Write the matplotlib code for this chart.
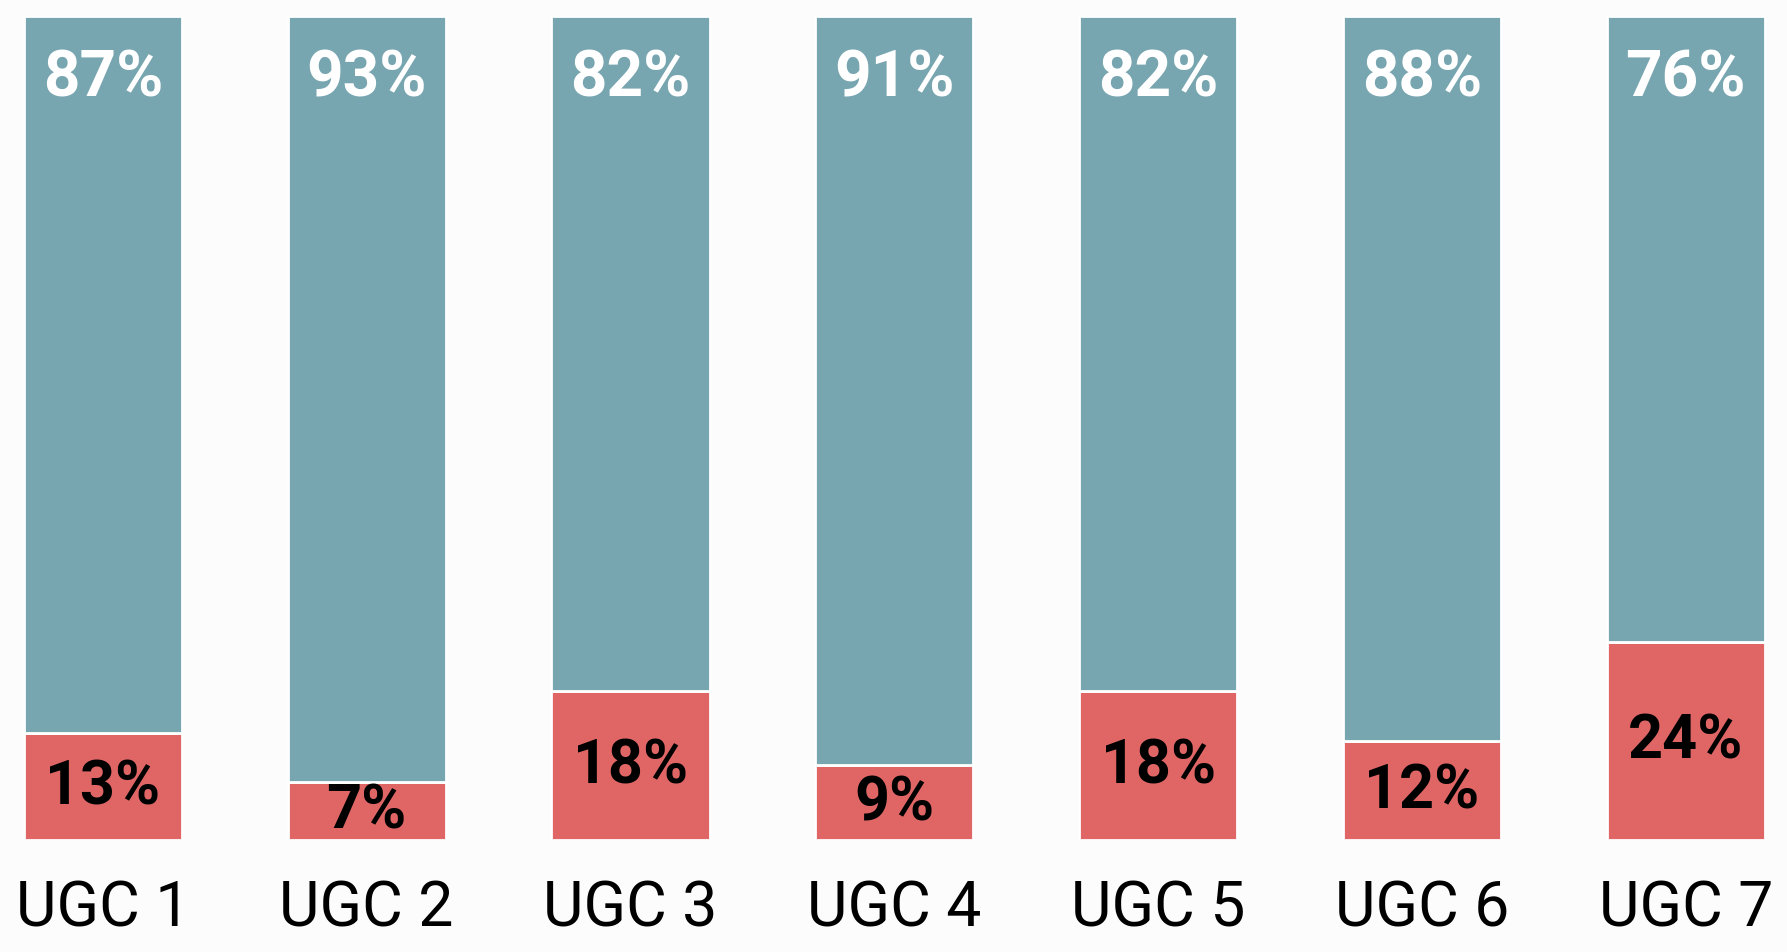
import numpy as np
import matplotlib.pyplot as plt

groups = ["UGC 1", "UGC 2", "UGC 3", "UGC 4", "UGC 5", "UGC 6", "UGC 7"]
top_share = [87, 93, 82, 91, 82, 88, 76]
bottom_share = [13, 7, 18, 9, 18, 12, 24]

teal = "#77a5b0"
red = "#e06666"
bg = "#fcfcfc"

fig = plt.figure(figsize=(17.87, 9.53), dpi=100, facecolor=bg)
ax = fig.add_axes([0, 0.118, 1, 0.864])
ax.set_facecolor(bg)

x = np.arange(len(groups))
totals = np.array(top_share) + np.array(bottom_share)
bot = np.array(bottom_share) / totals * 100
top = np.array(top_share) / totals * 100

ax.bar(x, bot, width=0.6, color=red, edgecolor="white", linewidth=2)
ax.bar(x, top, width=0.6, bottom=bot, color=teal, edgecolor="white", linewidth=2)

for i in range(len(groups)):
    ax.text(x[i], 100 - 7.5, "{}%".format(top_share[i]), ha="center", va="center",
            color="white", fontsize=46, fontweight="bold", family="Roboto")
    ax.text(x[i], bot[i] / 2, "{}%".format(bottom_share[i]), ha="center", va="center",
            color="black", fontsize=44, fontweight="bold", family="Roboto")

ax.set_xlim(-0.39, 6.384)
ax.set_ylim(0, 100)
ax.set_xticks(x)
ax.set_xticklabels(groups, fontsize=45, family="Roboto")
ax.tick_params(axis="x", length=0, pad=28)
ax.set_yticks([])
for s in ax.spines.values():
    s.set_visible(False)

fig.savefig("out.png", dpi=100, facecolor=bg)
